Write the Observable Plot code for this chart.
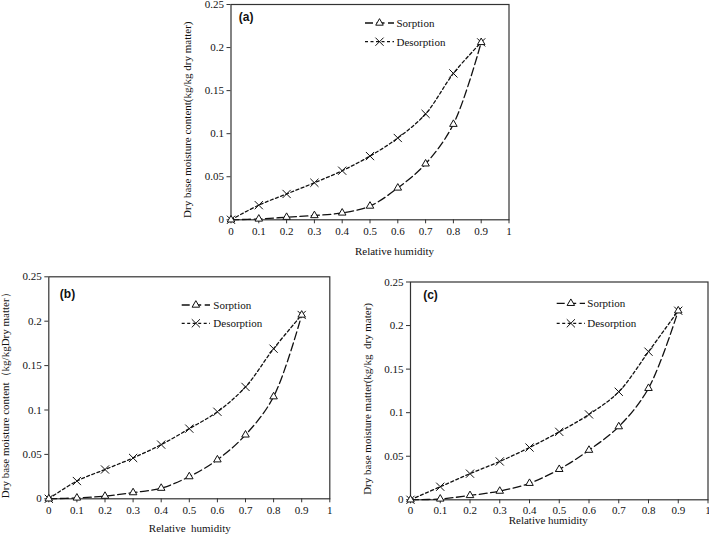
<!DOCTYPE html>
<html><head><meta charset="utf-8">
<script src="https://cdn.jsdelivr.net/npm/d3@7"></script>
<script src="https://cdn.jsdelivr.net/npm/@observablehq/plot@0.6"></script>
<style>
body{margin:0;background:#fff;}
#root{position:relative;width:709px;height:534px;overflow:hidden;background:#fff;}
#root > svg{position:absolute;}
</style></head><body><div id="root"></div>
<script>
// ---- data ----
const rh = [0, 0.1, 0.2, 0.3, 0.4, 0.5, 0.6, 0.7, 0.8, 0.9];
const xTicks = [0, 0.1, 0.2, 0.3, 0.4, 0.5, 0.6, 0.7, 0.8, 0.9, 1];
const yTicks = [0, 0.05, 0.1, 0.15, 0.2, 0.25];
const seriesNames = ["Sorption", "Desorption"];

const sorptionA   = [0, 0.001, 0.003, 0.005, 0.008, 0.016, 0.037, 0.065, 0.111, 0.206];
const desorptionA = [0, 0.017, 0.030, 0.043, 0.057, 0.074, 0.095, 0.123, 0.170, 0.206];
const sorptionB   = [0, 0.001, 0.003, 0.007, 0.012, 0.025, 0.044, 0.072, 0.115, 0.207];
const desorptionB = [0, 0.020, 0.033, 0.046, 0.061, 0.079, 0.098, 0.126, 0.169, 0.207];
const sorptionC   = [0, 0.001, 0.005, 0.010, 0.019, 0.035, 0.057, 0.084, 0.128, 0.217];
const desorptionC = [0, 0.015, 0.030, 0.044, 0.060, 0.078, 0.098, 0.124, 0.170, 0.217];

const panelLabels = ["(a)", "(b)", "(c)"];
const xLabels = ["Relative humidity", "Relative  humidity", "Relative humidity"];
const yLabels = [
  "Dry base moisture content(kg/kg dry matter)",
  "Dry base moisture content\uFF08kg/kgDry matter\uFF09",
  "Dry base moisture matter(kg/kg  dry mater)"
];

// ---- layout (styling only) ----
const panels = [
  {key:"a", s: sorptionA, d: desorptionA, left:160, top:0, width:360, height:265,
   mL:70.5, mR:11.5, mT:4, mB:45.7, xPad:3,
   yl:{dx:-43.8, dy:7.6}, xl:{dx:24.5, dy:31.7},
   lab:{x:7.8, y:13}, leg:{x0:134.5, x1:163.5, tx:166, y1:19, y2:37.7}},
  {key:"b", s: sorptionB, d: desorptionB, left:0, top:270, width:340, height:264,
   mL:48.3, mR:10.7, mT:6.3, mB:35.7, xPad:3,
   yl:{dx:-43, dy:5}, xl:{dx:0.5, dy:30}, 
   lab:{x:11, y:17}, leg:{x0:133.4, x1:161.7, tx:165, y1:28.7, y2:47}},
  {key:"c", s: sorptionC, d: desorptionC, left:355, top:270, width:354, height:264,
   mL:55, mR:1.5, mT:11.5, mB:34.7, xPad:2,
   yl:{dx:-43.3, dy:8}, xl:{dx:-11, dy:21},
   lab:{x:12.7, y:13.5}, leg:{x0:146.7, x1:175, tx:177.3, y1:21.8, y2:41.8}}
];

const serif = "'Liberation Serif','Times New Roman',serif";
const dashS = "8,3.5";
const dashD = "3,2.5";
const fmt = d => String(+d.toFixed(2));

const root = document.getElementById("root");

panels.forEach((p, i) => {
  const rows = rh.map((x, k) => ({x, s: p.s[k], d: p.d[k]}));
  const svg = Plot.plot({
    width: p.width, height: p.height,
    marginLeft: p.mL, marginRight: p.mR, marginTop: p.mT, marginBottom: p.mB,
    style: {fontFamily: serif, fontSize: "11px", color: "#000", background: "transparent", overflow: "visible"},
    x: {domain: [0, 1]},
    y: {domain: [0, 0.25]},
    marks: [
      Plot.axisX({ticks: xTicks, tickFormat: fmt, tickSize: 4, tickPadding: p.xPad, label: null, stroke: "#333",
        fontSize: 11, fontFamily: serif, fill: "#111"}),
      Plot.axisY({ticks: yTicks, tickFormat: fmt, tickSize: 4, tickPadding: 3, label: null, stroke: "#333",
        fontSize: 11, fontFamily: serif, fill: "#111"}),
      Plot.frame({stroke: "#333", strokeWidth: 1.2}),
      Plot.line(rows, {x: "x", y: "d", curve: "catmull-rom", stroke: "#111", strokeWidth: 1.3, strokeDasharray: dashD}),
      Plot.line(rows, {x: "x", y: "s", curve: "catmull-rom", stroke: "#111", strokeWidth: 1.3, strokeDasharray: dashS}),
      Plot.dot(rows, {x: "x", y: "d", symbol: "times", r: 3.8, stroke: "#111", strokeWidth: 1}),
      Plot.dot(rows, {x: "x", y: "s", symbol: "triangle", r: 2.8, fill: "white", stroke: "#111", strokeWidth: 1}),
      Plot.text([yLabels[i]], {frameAnchor: "left", dx: p.yl.dx, dy: p.yl.dy, rotate: -90, text: d => d,
        textAnchor: "middle", lineAnchor: "middle",
        fontSize: 11, fontFamily: serif, fill: "#111"}),
      Plot.text([xLabels[i]], {frameAnchor: "bottom", dx: p.xl.dx, dy: p.xl.dy, text: d => d,
        textAnchor: "middle", lineAnchor: "middle",
        fontSize: 11, fontFamily: serif, fill: "#111"}),
      Plot.text([panelLabels[i]], {frameAnchor: "top-left", dx: p.lab.x, dy: p.lab.y, text: d => d,
        textAnchor: "start", lineAnchor: "middle", fontSize: 12, fontWeight: "bold",
        fontFamily: "'Liberation Sans',Arial,sans-serif", fill: "#111"})
    ]
  });
  svg.style.left = p.left + "px";
  svg.style.top = p.top + "px";
  root.appendChild(svg);

  // legend (inside plot frame, top-right)
  const g = d3.select(svg).append("g")
    .attr("transform", `translate(${p.mL},${p.mT})`);
  const items = [
    {name: seriesNames[0], y: p.leg.y1, dash: dashS, sym: "triangle"},
    {name: seriesNames[1], y: p.leg.y2, dash: dashD, sym: "times"}
  ];
  items.forEach(it => {
    g.append("line").attr("x1", p.leg.x0).attr("x2", p.leg.x1)
      .attr("y1", it.y).attr("y2", it.y)
      .attr("stroke", "#111").attr("stroke-width", 1.3).attr("stroke-dasharray", it.dash);
    const cx = (p.leg.x0 + p.leg.x1) / 2;
    if (it.sym === "triangle") {
      g.append("path").attr("d", d3.symbol(d3.symbolTriangle, Math.PI * 2.8 * 2.8)())
        .attr("transform", `translate(${cx},${it.y})`)
        .attr("fill", "white").attr("stroke", "#111").attr("stroke-width", 1);
    } else {
      g.append("path").attr("d", d3.symbol(d3.symbolTimes, Math.PI * 3.8 * 3.8)())
        .attr("transform", `translate(${cx},${it.y})`)
        .attr("fill", "none").attr("stroke", "#111").attr("stroke-width", 1);
    }
    g.append("text").attr("x", p.leg.tx).attr("y", it.y).attr("dy", "0.35em")
      .attr("text-anchor", "start")
      .attr("font-family", serif).attr("font-size", 11).attr("fill", "#111")
      .text(it.name);
  });
});
</script>
</body></html>
